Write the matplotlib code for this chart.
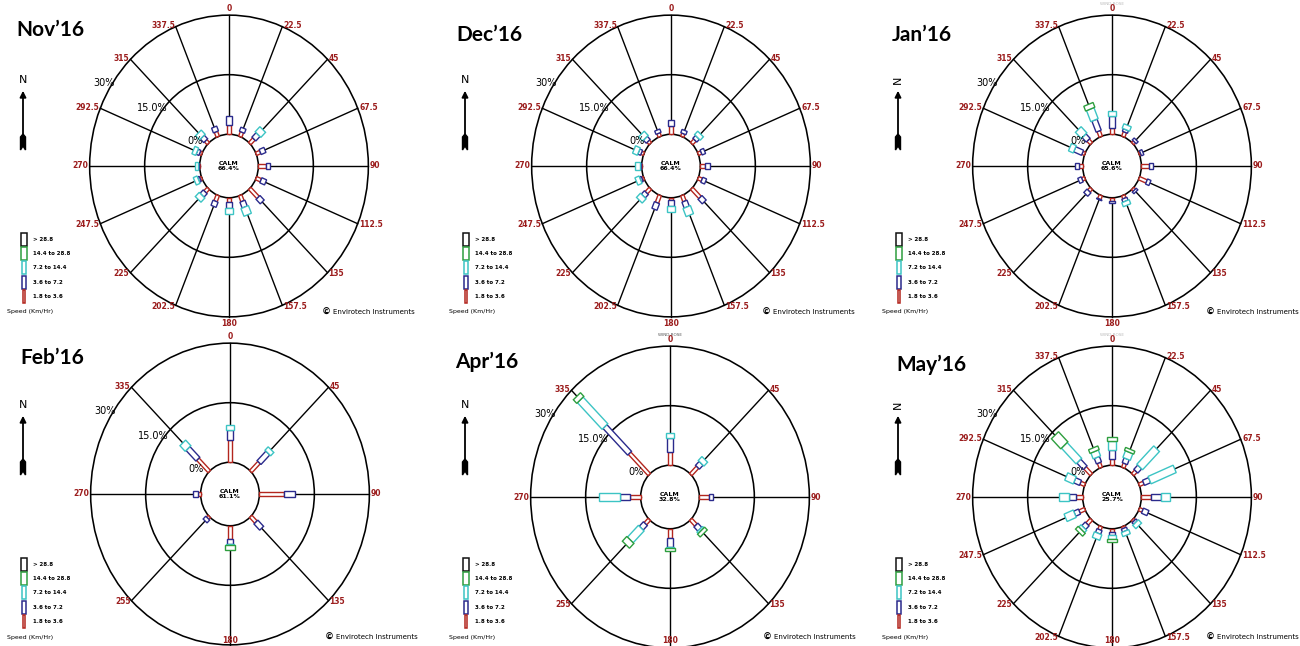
import numpy as np
import matplotlib
matplotlib.use('Agg')
import matplotlib.pyplot as plt
from matplotlib.patches import Circle, Polygon, Rectangle

plt.rcParams['font.family'] = ['DejaVu Sans']

# ---------------- data ----------------
titles = ['Nov’16', 'Dec’16', 'Jan’16', 'Feb’16', 'Apr’16', 'May’16']
calm = ['66.4%', '66.4%', '65.6%', '61.1%', '32.8%', '25.7%']

dirs16 = [0, 22.5, 45, 67.5, 90, 112.5, 135, 157.5, 180, 202.5, 225, 247.5, 270, 292.5, 315, 337.5]
dirs8 = [0, 45, 90, 135, 180, 225, 270, 315]
lab16 = ['0', '22.5', '45', '67.5', '90', '112.5', '135', '157.5', '180',
         '202.5', '225', '247.5', '270', '292.5', '315', '337.5']
lab8 = ['0', '45', '90', '135', '180', '255', '270', '335']

speed_labels = ['> 28.8', '14.4 to 28.8', '7.2 to 14.4', '3.6 to 7.2', '1.8 to 3.6']

# percent frequency per direction, classes 1.8-3.6 / 3.6-7.2 / 7.2-14.4 / 14.4-28.8 / >28.8
nov_1 = [2.4, 1.2, 1.6, 1.2, 2.0, 1.4, 3.2, 1.6, 1.0, 1.6, 1.2, 0.5, 0.2, 0.6, 1.0, 1.3]
nov_2 = [2.1, 1.1, 1.6, 1.4, 1.3, 1.4, 1.6, 1.6, 1.5, 1.4, 1.2, 0.5, 0.3, 0.8, 1.3, 1.3]
nov_3 = [0, 0, 1.8, 0, 0, 0, 0, 2.1, 1.7, 0, 1.5, 1.1, 0.8, 1.1, 1.5, 0]
nov_4 = [0] * 16
nov_5 = [0] * 16

dec_1 = [2.2, 0.8, 1.2, 0.9, 1.4, 1.1, 3.2, 1.6, 0.6, 2.0, 1.5, 0.5, 0.2, 0.7, 0.8, 0.9]
dec_2 = [1.3, 0.9, 1.0, 1.0, 1.2, 1.1, 1.6, 1.6, 1.4, 1.8, 1.2, 0.5, 0.3, 0.8, 1.1, 0.9]
dec_3 = [0, 0, 1.2, 0, 0, 0, 0, 2.2, 1.6, 0, 1.5, 1.2, 1.4, 1.4, 1.5, 0]
dec_4 = [0] * 16
dec_5 = [0] * 16

jan_1 = [1.6, 1.2, 0.6, 0.4, 2.1, 2.2, 0.6, 0.8, 0.8, 1.0, 0.9, 0.8, 1.0, 0.7, 1.2, 1.5]
jan_2 = [3.0, 0.7, 0.7, 0.7, 1.1, 1.0, 0.6, 0.8, 0.4, 0.2, 1.2, 1.0, 1.2, 2.3, 1.6, 3.0]
jan_3 = [1.3, 1.2, 0, 0, 0, 0, 0, 1.1, 0, 0, 0, 0, 0, 1.4, 2.2, 3.0]
jan_4 = [0, 0, 0, 0, 0, 0, 0, 0, 0, 0, 0, 0, 0, 0, 0, 1.3]
jan_5 = [0] * 16

feb_1 = [5.5, 3.2, 6.8, 2.0, 3.4, 0.6, 0.7, 4.4]
feb_2 = [2.5, 3.4, 2.9, 2.2, 1.2, 1.0, 1.3, 3.8]
feb_3 = [1.3, 1.2, 0, 0, 0.2, 0, 0, 2.0]
feb_4 = [0, 0, 0, 0, 1.4, 0, 0, 0]
feb_5 = [0] * 8

apr_1 = [3.4, 2.6, 2.7, 2.0, 2.4, 1.5, 3.0, 7.6]
apr_2 = [3.4, 1.4, 1.0, 1.5, 2.2, 1.6, 2.7, 9.5]
apr_3 = [1.2, 1.4, 0, 0.5, 0.2, 4.2, 5.7, 9.5]
apr_4 = [0, 0, 0, 1.0, 0.9, 1.7, 0, 1.3]
apr_5 = [0] * 8

may_1 = [1.6, 1.1, 1.2, 1.3, 2.7, 1.0, 0.5, 0.5, 0.8, 0.9, 1.6, 1.6, 1.8, 1.3, 2.4, 1.3]
may_2 = [2.2, 1.3, 1.5, 1.8, 2.7, 1.6, 0.6, 0.8, 0.8, 1.0, 1.3, 1.4, 1.9, 1.7, 2.4, 1.5]
may_3 = [2.4, 1.8, 6.5, 7.4, 2.3, 0, 1.2, 1.1, 1.0, 1.5, 0.8, 2.7, 2.8, 2.5, 5.6, 1.6]
may_4 = [0.8, 0.8, 0, 0, 0, 0, 0, 0, 0.8, 0, 1.0, 0, 0, 0, 3.6, 1.0]
may_5 = [0] * 16

roses = [
    (dirs16, lab16, [nov_1, nov_2, nov_3, nov_4, nov_5]),
    (dirs16, lab16, [dec_1, dec_2, dec_3, dec_4, dec_5]),
    (dirs16, lab16, [jan_1, jan_2, jan_3, jan_4, jan_5]),
    (dirs8, lab8, [feb_1, feb_2, feb_3, feb_4, feb_5]),
    (dirs8, lab8, [apr_1, apr_2, apr_3, apr_4, apr_5]),
    (dirs16, lab16, [may_1, may_2, may_3, may_4, may_5]),
]

# ---------------- layout / style ----------------
W, H = 1300, 646
KX, KY = 3.667, 3.97      # pixels per percent, horizontal / vertical
R0 = 8.0                  # calm circle radius in percent units
XL, YL = 46, 44
COLORS = ['#b3261e', '#2a2a8c', '#3cc4c4', '#2e9e3e', '#111111']
BAR_W = [3.5, 5.5, 8, 10, 12]  # px
LEG_W = [6, 6, 4.5, 4, 2]       # top to bottom (>28.8 ... 1.8)
DIRCOL = '#9b1c1c'

centers = [(229, 166), (671, 166), (1112, 166), (230, 494), (670, 497), (1112, 497)]
origins = [(0, 0), (442, 0), (875, 0), (0, 325), (442, 325), (875, 325)]
title_pos = [(16, 30), (456, 35), (892, 35), (20, 358), (455, 362), (896, 365)]
copy_x = [322, 762, 1206, 325, 763, 1206]

fig = plt.figure(figsize=(13, 6.46), dpi=100)
bg = fig.add_axes([0, 0, 1, 1])
bg.set_xlim(0, W)
bg.set_ylim(H, 0)
bg.axis('off')


def seg(ax, ang, r1, r2, wpx, col):
    t = np.radians(ang)
    ux, uy = np.sin(t), np.cos(t)
    px, py = np.cos(t) * wpx / 2 / KX, -np.sin(t) * wpx / 2 / KY
    pts = [(r1 * ux + px, r1 * uy + py), (r2 * ux + px, r2 * uy + py),
           (r2 * ux - px, r2 * uy - py), (r1 * ux - px, r1 * uy - py)]
    ax.add_patch(Polygon(pts, closed=True, fc='white', ec=col, lw=1.0, zorder=3))


for n, (dirs, labels, classes) in enumerate(roses):
    cx, cy = centers[n]
    w, h = 2 * XL * KX, 2 * YL * KY
    ax = fig.add_axes([(cx - w / 2) / W, 1 - (cy + h / 2) / H, w / W, h / H])
    ax.set_xlim(-XL, XL)
    ax.set_ylim(-YL, YL)
    ax.axis('off')

    for r in (R0, R0 + 15, R0 + 30):
        ax.add_patch(Circle((0, 0), r, fill=False, ec='black', lw=1.15, zorder=2))

    for a, lab in zip(dirs, labels):
        t = np.radians(a)
        s, c = np.sin(t), np.cos(t)
        ax.plot([R0 * s, (R0 + 30) * s], [R0 * c, (R0 + 30) * c], color='black', lw=1.0, zorder=1)
        if abs(s) < 0.1:
            ha, va = 'center', ('bottom' if c > 0 else 'top')
            x, y = 0, (R0 + 30.6) * np.sign(c)
            if c < 0 and cy + (R0 + 33) * KY > H:
                # keep the bottom label inside the figure edge
                va, y = 'bottom', -(H - 1 - cy) / KY
        else:
            ha, va = ('left' if s > 0 else 'right'), 'center'
            x, y = (R0 + 30.4) * s, (R0 + 30.4) * c
        ax.text(x, y, lab, color=DIRCOL, fontsize=5.5, fontweight='bold', ha=ha, va=va, zorder=5)

    for i, a in enumerate(dirs):
        r = R0
        for k in range(5):
            v = classes[k][i]
            if v > 0:
                seg(ax, a, r, r + v, BAR_W[k], COLORS[k])
                r += v

    ax.text(-34, 21, '30%', fontsize=7, ha='center', va='center')
    ax.text(-20.8, 14.5, '15.0%', fontsize=7, ha='center', va='center')
    ax.text(-9.3, 6.4, '0%', fontsize=7, ha='center', va='center')
    ax.text(0, 0, 'CALM\n' + calm[n], fontsize=4.5, fontweight='bold', ha='center', va='center',
            linespacing=0.95, zorder=4)
    if n in (2, 4, 5):
        ax.text(0, R0 + 32.3, 'WIND ROSE', fontsize=3, color='#555555' if n == 4 else '#bbbbbb',
                ha='center', va='bottom')

    # overlay items in pixel coords
    ox, oy = origins[n]
    tx, ty = title_pos[n]
    bg.text(tx, ty, titles[n], fontsize=15, fontweight='bold', family='Lato', ha='left', va='center')

    # north arrow
    nx = ox + 23
    bg.text(nx, oy + 80, 'N', fontsize=8, ha='center', va='center', rotation=90 if n in (2, 5) else 0)
    bg.annotate('', xy=(nx, oy + 88), xytext=(nx, oy + 140),
                arrowprops=dict(arrowstyle='-|>', color='black', lw=1.3, mutation_scale=9))
    bot = oy + 150
    bg.add_patch(Polygon([(nx - 2.5, bot), (nx - 2.5, bot - 13), (nx, bot - 16), (nx + 2.5, bot - 13),
                          (nx + 2.5, bot), (nx, bot - 4)], closed=True, fc='black', ec='black'))

    # legend
    lx, ly = ox + 24, oy + 233
    for k in range(5):
        y = ly + k * 14.2
        col = COLORS[4 - k]
        bg.add_patch(Rectangle((lx - LEG_W[k] / 2, y), LEG_W[k], 13, fc='white', ec=col, lw=1.1))
        bg.text(lx + 9, y + 6.5, speed_labels[k], fontsize=4, fontweight='bold', va='center')
    bg.text(ox + 7, oy + 312, 'Speed (Km/Hr)', fontsize=4.5, va='center')

    bg.text(copy_x[n], oy + 312, '©', fontsize=6.5, fontweight='bold', va='center')
    bg.text(copy_x[n] + 11, oy + 312, 'Envirotech Instruments', fontsize=5, va='center')

fig.savefig('out.png', dpi=100)
